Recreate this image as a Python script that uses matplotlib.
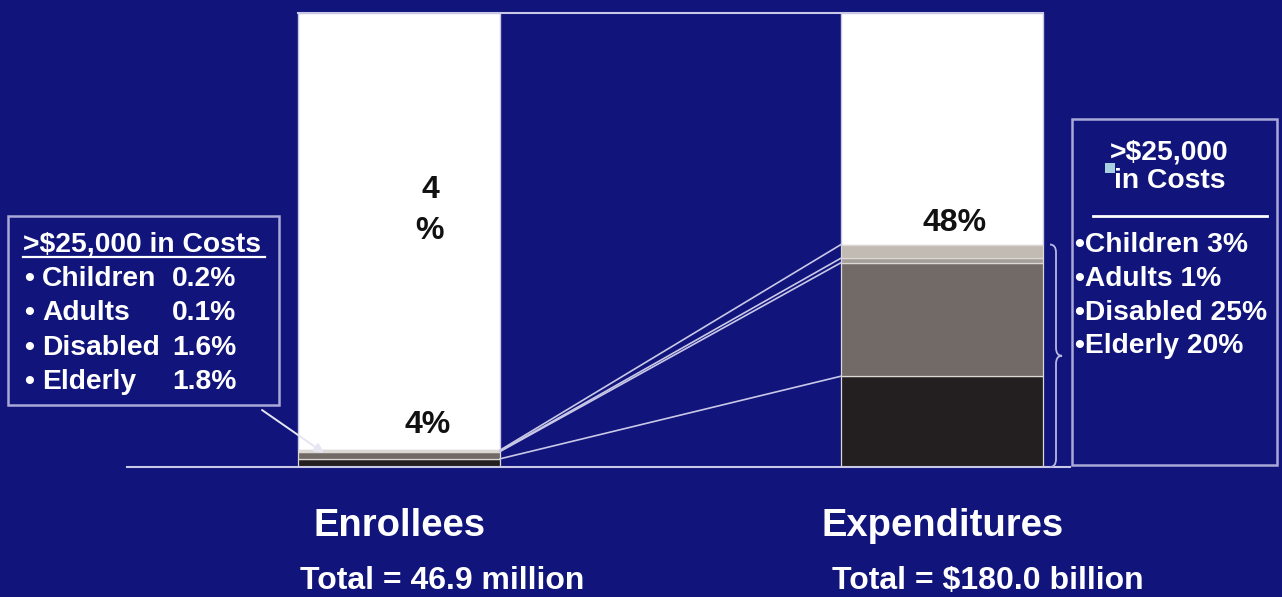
import matplotlib
matplotlib.use("Agg")
import matplotlib.pyplot as plt
from matplotlib.path import Path
from matplotlib.patches import PathPatch, Rectangle
import numpy as np

# ---- data -------------------------------------------------------------
groups = ["Enrollees", "Expenditures"]
group_totals = ["Total = 46.9 million", "Total = $180.0 billion"]
segments = ["Elderly", "Disabled", "Adults", "Children"]       # bottom -> top
enrollee_share = [1.8, 1.6, 0.1, 0.2]                           # % of enrollees
expenditure_share = [20, 25, 1, 3]                              # % of spending
stack_labels = ["4%", "48%"]
top_label = "4\n%"
enrollee_box = [("Children", "0.2%"), ("Adults", "0.1%"),
                ("Disabled", "1.6%"), ("Elderly", "1.8%")]
spending_box = ["Children 3%", "Adults 1%", "Disabled 25%", "Elderly 20%"]

# ---- style ------------------------------------------------------------
BG = "#10147b"
EDGE = "#c9c8e6"
seg_colors = ["#231f20", "#726a67", "#a59e99", "#c2bbb3"]
FONT = "Liberation Sans"
W, H = 1282, 597

fig = plt.figure(figsize=(W / 100, H / 100), dpi=100, facecolor=BG)

# bar axes: baseline at y=467px, 100% at y=13px
left_px, right_px, base_px, top_px = 127, 1070, 467, 13
ax = fig.add_axes([left_px / W, (H - base_px) / H,
                   (right_px - left_px) / W, (base_px - top_px) / H])
ax.set_facecolor("none")
unit_px = 543.0                      # distance between bar centres
bar_w = 202 / unit_px
ax.set_xlim(-(399 - left_px) / unit_px, 1 + (right_px - 942) / unit_px)
ax.set_ylim(0, 100)
ax.axis("off")

x = np.arange(len(groups))
series = np.array([enrollee_share, expenditure_share], dtype=float)  # (group, seg)
bottoms = np.zeros(len(groups))
tops = []
for j, col in enumerate(seg_colors):
    vals = series[:, j]
    ax.bar(x, vals, bar_w, bottom=bottoms, color=col, edgecolor="#dcd8d4",
           linewidth=0.9, zorder=3)
    bottoms = bottoms + vals
    tops.append(bottoms.copy())
# white remainder of each 100% column
ax.bar(x, 100 - bottoms, bar_w, bottom=bottoms, color="white",
       edgecolor=EDGE, linewidth=1.0, zorder=2)

# baseline and top border
ax.plot([ax.get_xlim()[0], ax.get_xlim()[1]], [0, 0], color=EDGE, lw=1.5,
        zorder=4, clip_on=False)
ax.plot([x[0] - bar_w / 2, x[1] + bar_w / 2], [100, 100], color=EDGE, lw=1.5,
        zorder=4, clip_on=False)

# series lines joining segment boundaries
for t in tops:
    ax.plot([x[0] + bar_w / 2, x[1] - bar_w / 2], [t[0], t[1]],
            color=EDGE, lw=1.2, zorder=4)

# stack total labels
offsets = [(29, 10), (13, 7)]
for i, lab in enumerate(stack_labels):
    ax.annotate(lab, (x[i], bottoms[i]), xytext=offsets[i],
                textcoords="offset pixels", ha="center", va="bottom",
                fontsize=23, fontweight="bold", family=FONT, color="#111111",
                zorder=5)
ax.text(x[0] + 31 / unit_px, 56.5, top_label, ha="center", va="center",
        fontsize=23, fontweight="bold", family=FONT, color="#111111",
        linespacing=1.45, zorder=5)

# brace beside the expenditure stack
px_x = 1 / unit_px
px_y = 100 / (base_px - top_px)
xe = x[1] + bar_w / 2
y_top, y_bot = bottoms[1], 0.0
y_mid = (y_top + y_bot) / 2
xh, xv, xt = xe + 7 * px_x, xe + 13 * px_x, xe + 19 * px_x
r = 8 * px_y
verts = [(xh, y_top), (xv, y_top), (xv, y_top - r),
         (xv, y_mid + r), (xv, y_mid), (xt, y_mid),
         (xv, y_mid), (xv, y_mid - r),
         (xv, y_bot + r), (xv, y_bot), (xh, y_bot)]
codes = [Path.MOVETO, Path.CURVE3, Path.CURVE3,
         Path.LINETO, Path.CURVE3, Path.CURVE3,
         Path.CURVE3, Path.CURVE3,
         Path.LINETO, Path.CURVE3, Path.CURVE3]
ax.add_patch(PathPatch(Path(verts, codes), fill=False, edgecolor="#b8b8e0",
                       lw=1.3, clip_on=False, zorder=4))

# ---- overlay in pixel coordinates for boxes and captions ---------------
ov = fig.add_axes([0, 0, 1, 1], zorder=5)
ov.set_xlim(0, W)
ov.set_ylim(H, 0)
ov.axis("off")
ov.patch.set_alpha(0)

txt = dict(color="white", fontweight="bold", family=FONT)
BOX_FS = 20.3

# group captions
for cx, lab in zip([400, 943], groups):
    ov.text(cx, 526, lab, ha="center", va="center", fontsize=27.5, **txt)
for cx, lab in zip([442, 988], group_totals):
    ov.text(cx, 581, lab, ha="center", va="center", fontsize=23, **txt)

# left call-out box
ov.add_patch(Rectangle((8, 216), 271, 189, fill=False, edgecolor="#a9a9d8",
                       lw=1.8))
ov.text(23, 252, ">$25,000 in Costs", ha="left", va="baseline",
        fontsize=BOX_FS, **txt)
ov.plot([23, 265], [257, 257], color="white", lw=1.6)
for k, (name, val) in enumerate(enrollee_box):
    yb = 286 + k * 34.3
    ov.text(24, yb, "•", ha="left", va="baseline", fontsize=BOX_FS, **txt)
    ov.text(42, yb, name, ha="left", va="baseline", fontsize=BOX_FS, **txt)
    ov.text(172, yb, val, ha="left", va="baseline", fontsize=BOX_FS, **txt)
ov.annotate("", xy=(324, 453), xytext=(262, 410),
            arrowprops=dict(arrowstyle="-|>", color="#e6e6f2", lw=1.4,
                            mutation_scale=14, shrinkA=0, shrinkB=0))

# right call-out box
ov.add_patch(Rectangle((1072, 119), 205, 346, fill=False, edgecolor="#a9a9d8",
                       lw=1.8))
ov.text(1169, 160, ">$25,000", ha="center", va="baseline", fontsize=BOX_FS, **txt)
ov.text(1170, 188, "in Costs", ha="center", va="baseline", fontsize=BOX_FS, **txt)
ov.add_patch(Rectangle((1105, 163), 10, 10, facecolor="#a8cfe0",
                       edgecolor="none", zorder=6))
ov.plot([1093, 1267], [216, 216], color="white", lw=2)
for k, item in enumerate(spending_box):
    ov.text(1075, 252 + k * 33.8, "•" + item, ha="left", va="baseline",
            fontsize=BOX_FS, **txt)

fig.savefig("out.png", dpi=100, facecolor=BG)
